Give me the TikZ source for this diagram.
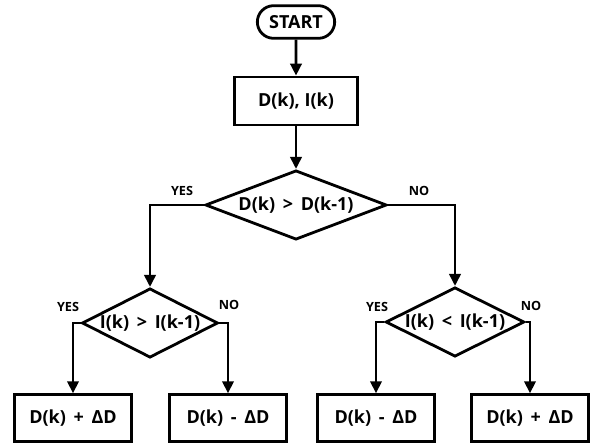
\documentclass[tikz,border=0pt]{standalone}
\usepackage{fontspec}
\setmainfont{Open Sans}
\usetikzlibrary{shapes.geometric, shapes.misc, arrows.meta, positioning}

\begin{document}
\begin{tikzpicture}[x=0.75pt, y=-0.75pt,
            terminal/.style={rounded rectangle, draw=black, line width=2.1pt, minimum width=58pt, minimum height=24.5pt, inner sep=0pt, font=\fontsize{13.5}{15}\selectfont\bfseries},
            process/.style={rectangle, draw=black, line width=2.1pt, minimum width=92pt, minimum height=36pt, inner sep=0pt, font=\fontsize{13.5}{15}\selectfont\bfseries},
            result/.style={rectangle, draw=black, line width=2.1pt, minimum width=87.5pt, minimum height=35pt, inner sep=0pt, font=\fontsize{13.5}{15}\selectfont\bfseries},
            decision/.style={diamond, draw=black, line width=2.1pt, inner sep=0pt},
            cond/.style={inner sep=0pt, font=\fontsize{13.5}{15}\selectfont\bfseries},
            answer/.style={inner sep=0pt, font=\fontsize{9.5}{11}\selectfont\bfseries},
            flow/.style={line width=2.1pt, -{Triangle[length=9pt, width=8.5pt]}}
        ]
            \useasboundingbox (0,0) rectangle (592,443);

% Start and measurement
            \node[terminal] (start) at (296,22) {START};
            \node[process] (measure) at (296,101) {D(k), I(k)};

% First decision
            \node[decision, minimum width=136pt, minimum height=52pt] (dcheck) at (296,205) {};
            \node[cond] (dcheck_txt) at (dcheck) {D(k) \,>\, D(k-1)};

% Second decisions
            \node[decision, minimum width=102pt, minimum height=52pt] (icheck_up) at (150,323) {};
            \node[cond] (icheck_up_txt) at (icheck_up) {I(k) \,>\, I(k-1)};
            \node[decision, minimum width=104pt, minimum height=52pt] (icheck_down) at (455,322) {};
            \node[cond] (icheck_down_txt) at (icheck_down) {I(k) \,<\, I(k-1)};

% Duty updates
            \node[result] (inc_a) at (73,418) {D(k) \,+\, ΔD};
            \node[result] (dec_a) at (228,418) {D(k) \,-\, ΔD};
            \node[result] (dec_b) at (376,418) {D(k) \,-\, ΔD};
            \node[result] (inc_b) at (530,418) {D(k) \,+\, ΔD};

% YES / NO labels
            \node[answer] (yes_d) at (182,191) {YES};
            \node[answer] (no_d) at (419,191) {NO};
            \node[answer] (yes_up) at (68,307) {YES};
            \node[answer] (no_up) at (229,305) {NO};
            \node[answer] (yes_down) at (377,307) {YES};
            \node[answer] (no_down) at (531,306) {NO};

% Connectors
            \draw[flow] (start) -- (measure);
            \draw[flow] (measure) -- (dcheck);
            \draw[flow] (dcheck.west) -| (icheck_up.north);
            \draw[flow] (dcheck.east) -| (icheck_down.north);
            \draw[flow] (icheck_up.west) -| (inc_a.north);
            \draw[flow] (icheck_up.east) -| (dec_a.north);
            \draw[flow] (icheck_down.west) -| (dec_b.north);
            \draw[flow] (icheck_down.east) -| (inc_b.north);

        \end{tikzpicture}
\end{document}
